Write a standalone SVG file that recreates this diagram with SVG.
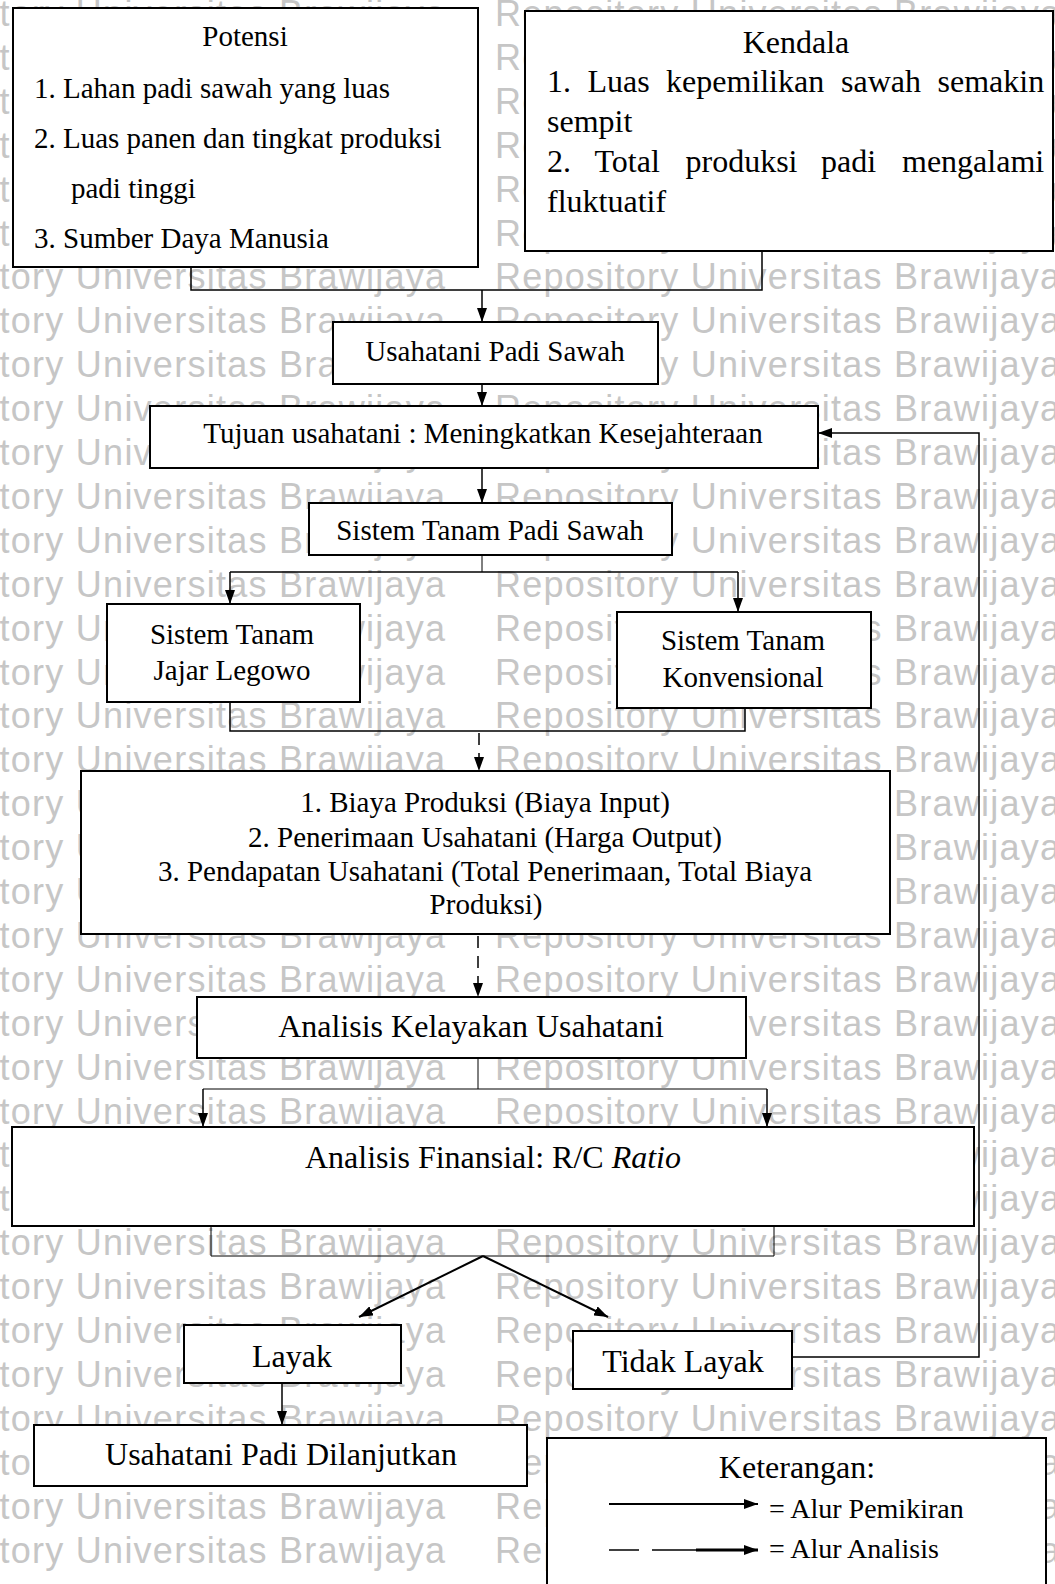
<svg xmlns="http://www.w3.org/2000/svg" width="1055" height="1584" viewBox="0 0 1055 1584">
<style>
.wm{font-family:"Liberation Sans",Arial,sans-serif;font-size:36px;fill:#c6c6c6}
.box{fill:#fff;stroke:#000;stroke-width:2}
.t29{font-family:"Liberation Serif","Times New Roman",serif;font-size:29px;fill:#000}
.t32{font-family:"Liberation Serif","Times New Roman",serif;font-size:32px;fill:#000}
.t28{font-family:"Liberation Serif","Times New Roman",serif;font-size:28px;fill:#000}
.c{text-anchor:middle}
.ln{fill:none;stroke:#000;stroke-width:1.5}
.thin{fill:none;stroke:#000;stroke-width:1}
.dash{fill:none;stroke:#000;stroke-width:1.5;stroke-dasharray:12 8}
</style>
<defs>
<marker id="arr" viewBox="0 0 14 10" refX="14" refY="5" markerWidth="14" markerHeight="10" markerUnits="userSpaceOnUse" orient="auto">
<path d="M0,0 L14,5 L0,10 z" fill="#000"/>
</marker>
</defs>
<rect width="1055" height="1584" fill="#fff"/>
<g id="watermark">
<text class="wm" x="-120" y="26" textLength="565" lengthAdjust="spacing">Repository Universitas Brawijaya</text><text class="wm" x="495" y="26" textLength="565" lengthAdjust="spacing">Repository Universitas Brawijaya</text>
<text class="wm" x="-120" y="69.9" textLength="565" lengthAdjust="spacing">Repository Universitas Brawijaya</text><text class="wm" x="495" y="69.9" textLength="565" lengthAdjust="spacing">Repository Universitas Brawijaya</text>
<text class="wm" x="-120" y="113.8" textLength="565" lengthAdjust="spacing">Repository Universitas Brawijaya</text><text class="wm" x="495" y="113.8" textLength="565" lengthAdjust="spacing">Repository Universitas Brawijaya</text>
<text class="wm" x="-120" y="157.7" textLength="565" lengthAdjust="spacing">Repository Universitas Brawijaya</text><text class="wm" x="495" y="157.7" textLength="565" lengthAdjust="spacing">Repository Universitas Brawijaya</text>
<text class="wm" x="-120" y="201.6" textLength="565" lengthAdjust="spacing">Repository Universitas Brawijaya</text><text class="wm" x="495" y="201.6" textLength="565" lengthAdjust="spacing">Repository Universitas Brawijaya</text>
<text class="wm" x="-120" y="245.5" textLength="565" lengthAdjust="spacing">Repository Universitas Brawijaya</text><text class="wm" x="495" y="245.5" textLength="565" lengthAdjust="spacing">Repository Universitas Brawijaya</text>
<text class="wm" x="-120" y="289.4" textLength="565" lengthAdjust="spacing">Repository Universitas Brawijaya</text><text class="wm" x="495" y="289.4" textLength="565" lengthAdjust="spacing">Repository Universitas Brawijaya</text>
<text class="wm" x="-120" y="333.3" textLength="565" lengthAdjust="spacing">Repository Universitas Brawijaya</text><text class="wm" x="495" y="333.3" textLength="565" lengthAdjust="spacing">Repository Universitas Brawijaya</text>
<text class="wm" x="-120" y="377.2" textLength="565" lengthAdjust="spacing">Repository Universitas Brawijaya</text><text class="wm" x="495" y="377.2" textLength="565" lengthAdjust="spacing">Repository Universitas Brawijaya</text>
<text class="wm" x="-120" y="421.1" textLength="565" lengthAdjust="spacing">Repository Universitas Brawijaya</text><text class="wm" x="495" y="421.1" textLength="565" lengthAdjust="spacing">Repository Universitas Brawijaya</text>
<text class="wm" x="-120" y="465" textLength="565" lengthAdjust="spacing">Repository Universitas Brawijaya</text><text class="wm" x="495" y="465" textLength="565" lengthAdjust="spacing">Repository Universitas Brawijaya</text>
<text class="wm" x="-120" y="508.9" textLength="565" lengthAdjust="spacing">Repository Universitas Brawijaya</text><text class="wm" x="495" y="508.9" textLength="565" lengthAdjust="spacing">Repository Universitas Brawijaya</text>
<text class="wm" x="-120" y="552.8" textLength="565" lengthAdjust="spacing">Repository Universitas Brawijaya</text><text class="wm" x="495" y="552.8" textLength="565" lengthAdjust="spacing">Repository Universitas Brawijaya</text>
<text class="wm" x="-120" y="596.7" textLength="565" lengthAdjust="spacing">Repository Universitas Brawijaya</text><text class="wm" x="495" y="596.7" textLength="565" lengthAdjust="spacing">Repository Universitas Brawijaya</text>
<text class="wm" x="-120" y="640.6" textLength="565" lengthAdjust="spacing">Repository Universitas Brawijaya</text><text class="wm" x="495" y="640.6" textLength="565" lengthAdjust="spacing">Repository Universitas Brawijaya</text>
<text class="wm" x="-120" y="684.5" textLength="565" lengthAdjust="spacing">Repository Universitas Brawijaya</text><text class="wm" x="495" y="684.5" textLength="565" lengthAdjust="spacing">Repository Universitas Brawijaya</text>
<text class="wm" x="-120" y="728.4" textLength="565" lengthAdjust="spacing">Repository Universitas Brawijaya</text><text class="wm" x="495" y="728.4" textLength="565" lengthAdjust="spacing">Repository Universitas Brawijaya</text>
<text class="wm" x="-120" y="772.3" textLength="565" lengthAdjust="spacing">Repository Universitas Brawijaya</text><text class="wm" x="495" y="772.3" textLength="565" lengthAdjust="spacing">Repository Universitas Brawijaya</text>
<text class="wm" x="-120" y="816.2" textLength="565" lengthAdjust="spacing">Repository Universitas Brawijaya</text><text class="wm" x="495" y="816.2" textLength="565" lengthAdjust="spacing">Repository Universitas Brawijaya</text>
<text class="wm" x="-120" y="860.1" textLength="565" lengthAdjust="spacing">Repository Universitas Brawijaya</text><text class="wm" x="495" y="860.1" textLength="565" lengthAdjust="spacing">Repository Universitas Brawijaya</text>
<text class="wm" x="-120" y="904" textLength="565" lengthAdjust="spacing">Repository Universitas Brawijaya</text><text class="wm" x="495" y="904" textLength="565" lengthAdjust="spacing">Repository Universitas Brawijaya</text>
<text class="wm" x="-120" y="947.9" textLength="565" lengthAdjust="spacing">Repository Universitas Brawijaya</text><text class="wm" x="495" y="947.9" textLength="565" lengthAdjust="spacing">Repository Universitas Brawijaya</text>
<text class="wm" x="-120" y="991.8" textLength="565" lengthAdjust="spacing">Repository Universitas Brawijaya</text><text class="wm" x="495" y="991.8" textLength="565" lengthAdjust="spacing">Repository Universitas Brawijaya</text>
<text class="wm" x="-120" y="1035.7" textLength="565" lengthAdjust="spacing">Repository Universitas Brawijaya</text><text class="wm" x="495" y="1035.7" textLength="565" lengthAdjust="spacing">Repository Universitas Brawijaya</text>
<text class="wm" x="-120" y="1079.6" textLength="565" lengthAdjust="spacing">Repository Universitas Brawijaya</text><text class="wm" x="495" y="1079.6" textLength="565" lengthAdjust="spacing">Repository Universitas Brawijaya</text>
<text class="wm" x="-120" y="1123.5" textLength="565" lengthAdjust="spacing">Repository Universitas Brawijaya</text><text class="wm" x="495" y="1123.5" textLength="565" lengthAdjust="spacing">Repository Universitas Brawijaya</text>
<text class="wm" x="-120" y="1167.4" textLength="565" lengthAdjust="spacing">Repository Universitas Brawijaya</text><text class="wm" x="495" y="1167.4" textLength="565" lengthAdjust="spacing">Repository Universitas Brawijaya</text>
<text class="wm" x="-120" y="1211.3" textLength="565" lengthAdjust="spacing">Repository Universitas Brawijaya</text><text class="wm" x="495" y="1211.3" textLength="565" lengthAdjust="spacing">Repository Universitas Brawijaya</text>
<text class="wm" x="-120" y="1255.2" textLength="565" lengthAdjust="spacing">Repository Universitas Brawijaya</text><text class="wm" x="495" y="1255.2" textLength="565" lengthAdjust="spacing">Repository Universitas Brawijaya</text>
<text class="wm" x="-120" y="1299.1" textLength="565" lengthAdjust="spacing">Repository Universitas Brawijaya</text><text class="wm" x="495" y="1299.1" textLength="565" lengthAdjust="spacing">Repository Universitas Brawijaya</text>
<text class="wm" x="-120" y="1343" textLength="565" lengthAdjust="spacing">Repository Universitas Brawijaya</text><text class="wm" x="495" y="1343" textLength="565" lengthAdjust="spacing">Repository Universitas Brawijaya</text>
<text class="wm" x="-120" y="1386.9" textLength="565" lengthAdjust="spacing">Repository Universitas Brawijaya</text><text class="wm" x="495" y="1386.9" textLength="565" lengthAdjust="spacing">Repository Universitas Brawijaya</text>
<text class="wm" x="-120" y="1430.8" textLength="565" lengthAdjust="spacing">Repository Universitas Brawijaya</text><text class="wm" x="495" y="1430.8" textLength="565" lengthAdjust="spacing">Repository Universitas Brawijaya</text>
<text class="wm" x="-120" y="1474.7" textLength="565" lengthAdjust="spacing">Repository Universitas Brawijaya</text><text class="wm" x="495" y="1474.7" textLength="565" lengthAdjust="spacing">Repository Universitas Brawijaya</text>
<text class="wm" x="-120" y="1518.6" textLength="565" lengthAdjust="spacing">Repository Universitas Brawijaya</text><text class="wm" x="495" y="1518.6" textLength="565" lengthAdjust="spacing">Repository Universitas Brawijaya</text>
<text class="wm" x="-120" y="1562.5" textLength="565" lengthAdjust="spacing">Repository Universitas Brawijaya</text><text class="wm" x="495" y="1562.5" textLength="565" lengthAdjust="spacing">Repository Universitas Brawijaya</text>
</g>
<g id="connectors">
<polyline class="ln" points="191,267 191,290 762,290 762,251"/>
<line class="ln" x1="482" y1="290" x2="482" y2="322" marker-end="url(#arr)"/>
<line class="ln" x1="482" y1="384" x2="482" y2="406" marker-end="url(#arr)"/>
<line class="ln" x1="482" y1="468" x2="482" y2="503" marker-end="url(#arr)"/>
<line class="thin" x1="482" y1="555" x2="482" y2="572"/>
<line class="ln" x1="230" y1="572" x2="738" y2="572"/>
<line class="ln" x1="230" y1="572" x2="230" y2="604" marker-end="url(#arr)"/>
<line class="ln" x1="738" y1="572" x2="738" y2="612" marker-end="url(#arr)"/>
<polyline class="ln" points="230,702 230,731 745,731 745,708"/>
<line class="dash" x1="479" y1="733" x2="479" y2="771" marker-end="url(#arr)"/>
<line class="dash" x1="478" y1="936" x2="478" y2="997" marker-end="url(#arr)"/>
<line class="thin" x1="478" y1="1058" x2="478" y2="1089"/>
<line class="thin" x1="203" y1="1089" x2="767" y2="1089"/>
<line class="ln" x1="203" y1="1089" x2="203" y2="1127" marker-end="url(#arr)"/>
<line class="ln" x1="767" y1="1089" x2="767" y2="1127" marker-end="url(#arr)"/>
<polyline class="thin" points="211,1226 211,1256 774,1256 774,1226"/>
<line class="ln" style="stroke-width:2" x1="483" y1="1256" x2="359" y2="1317" marker-end="url(#arr)"/>
<line class="ln" style="stroke-width:2" x1="483" y1="1256" x2="608" y2="1317" marker-end="url(#arr)"/>
<polyline class="ln" points="792,1357 979,1357 979,433 818,433" marker-end="url(#arr)"/>
<line class="ln" x1="282" y1="1383" x2="282" y2="1425" marker-end="url(#arr)"/>
</g>
<g id="potensi">
<rect class="box" x="13" y="8" width="465" height="259"/>
<text class="t29 c" x="245" y="46">Potensi</text>
<text class="t29" x="34" y="98">1. Lahan padi sawah yang luas</text>
<text class="t29" x="34" y="148">2. Luas panen dan tingkat produksi</text>
<text class="t29" x="71" y="198">padi tinggi</text>
<text class="t29" x="34" y="248">3. Sumber Daya Manusia</text>
</g>
<g id="kendala">
<rect class="box" x="525" y="11" width="528" height="240"/>
<text class="t32 c" x="796" y="53">Kendala</text>
<text class="t32" y="92"><tspan x="547">1.</tspan> <tspan x="587.5">Luas</tspan> <tspan x="666">kepemilikan</tspan> <tspan x="841">sawah</tspan> <tspan x="937.5">semakin</tspan></text>
<text class="t32" x="547" y="132">sempit</text>
<text class="t32" y="172"><tspan x="547">2.</tspan> <tspan x="594.5">Total</tspan> <tspan x="685.5">produksi</tspan> <tspan x="821">padi</tspan> <tspan x="902">mengalami</tspan></text>
<text class="t32" x="547" y="212">fluktuatif</text>
</g>
<g id="usahatani">
<rect class="box" x="333" y="322" width="325" height="62"/>
<text class="t29 c" x="495" y="361">Usahatani Padi Sawah</text>
</g>
<g id="tujuan">
<rect class="box" x="150" y="406" width="668" height="62"/>
<text class="t29 c" x="483" y="443">Tujuan usahatani : Meningkatkan Kesejahteraan</text>
</g>
<g id="sistem">
<rect class="box" x="309" y="503" width="363" height="52"/>
<text class="t29 c" x="490" y="540">Sistem Tanam Padi Sawah</text>
</g>
<g id="jajar">
<rect class="box" x="107" y="604" width="253" height="98"/>
<text class="t29 c" x="232" y="644">Sistem Tanam</text>
<text class="t29 c" x="232" y="680">Jajar Legowo</text>
</g>
<g id="konvensional">
<rect class="box" x="617" y="612" width="254" height="96"/>
<text class="t29 c" x="743" y="650">Sistem Tanam</text>
<text class="t29 c" x="743" y="687">Konvensional</text>
</g>
<g id="biaya">
<rect class="box" x="81" y="771" width="809" height="163"/>
<text class="t29 c" x="485" y="812">1. Biaya Produksi (Biaya Input)</text>
<text class="t29 c" x="485" y="847">2. Penerimaan Usahatani (Harga Output)</text>
<text class="t29 c" x="485" y="881">3. Pendapatan Usahatani (Total Penerimaan, Total Biaya</text>
<text class="t29 c" x="486" y="914">Produksi)</text>
</g>
<g id="kelayakan">
<rect class="box" x="197" y="997" width="549" height="61"/>
<text class="t32 c" x="471" y="1037">Analisis Kelayakan Usahatani</text>
</g>
<g id="finansial">
<rect class="box" x="12" y="1127" width="962" height="99"/>
<text class="t32 c" x="493" y="1168">Analisis Finansial: R/C <tspan font-style="italic">Ratio</tspan></text>
</g>
<g id="layak">
<rect class="box" x="184" y="1325" width="217" height="58"/>
<text class="t32 c" x="292" y="1367">Layak</text>
</g>
<g id="tidak-layak">
<rect class="box" x="573" y="1331" width="219" height="58"/>
<text class="t32 c" x="683" y="1372">Tidak Layak</text>
</g>
<g id="dilanjutkan">
<rect class="box" x="34" y="1425" width="493" height="61"/>
<text class="t32 c" x="281" y="1465">Usahatani Padi Dilanjutkan</text>
</g>
<g id="keterangan">
<rect class="box" x="547" y="1438" width="499" height="160"/>
<text class="t32 c" x="797" y="1478">Keterangan:</text>
<line x1="609" y1="1504" x2="758" y2="1504" stroke="#000" stroke-width="2" marker-end="url(#arr)"/>
<text class="t28" x="769" y="1518">= Alur Pemikiran</text>
<line x1="609" y1="1550" x2="639" y2="1550" stroke="#000" stroke-width="1.5"/>
<line x1="652" y1="1550" x2="700" y2="1550" stroke="#000" stroke-width="1.5"/>
<line x1="696" y1="1550" x2="758" y2="1550" stroke="#000" stroke-width="3" marker-end="url(#arr)"/>
<text class="t28" x="769" y="1558">= Alur Analisis</text>
</g>
</svg>
